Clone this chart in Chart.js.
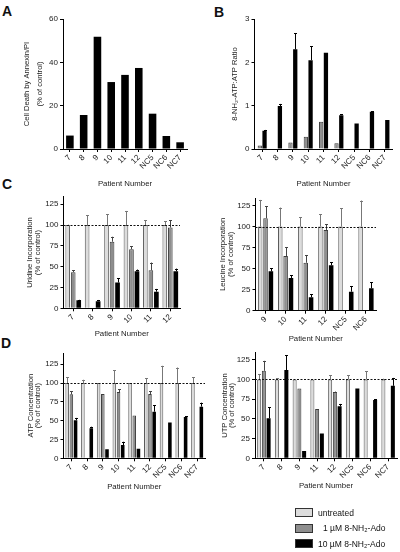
<!DOCTYPE html>
<html>
<head>
<meta charset="utf-8">
<script src="https://cdn.jsdelivr.net/npm/chart.js@4.4.1/dist/chart.umd.min.js"></script>
<style>
  body { margin: 0; background: #fff; width: 400px; height: 552px; position: relative; overflow: hidden; font-family: "Liberation Sans", Arial, sans-serif; }
  canvas { position: absolute; }
  .letter { position: absolute; font-weight: bold; font-size: 14px; line-height: 14px; color: #111; }
  .legend { position: absolute; left: 295px; top: 505px; font-size: 8.5px; color: #111; }
  .legend-row { display: flex; align-items: center; height: 15.5px; }
  .swatch { width: 16px; height: 7px; border: 1px solid #333; margin-right: 5px; }
</style>
</head>
<body>
<div class="letter" style="left:2px;top:4px">A</div>
<div class="letter" style="left:214px;top:5px">B</div>
<div class="letter" style="left:2px;top:177px">C</div>
<div class="letter" style="left:1px;top:336px">D</div>

<canvas id="chartA" width="200" height="190" style="left:0;top:0"></canvas>
<canvas id="chartB" width="200" height="190" style="left:200px;top:0"></canvas>
<canvas id="chartC1" width="200" height="160" style="left:0;top:190px"></canvas>
<canvas id="chartC2" width="200" height="160" style="left:200px;top:190px"></canvas>
<canvas id="chartD1" width="210" height="160" style="left:0;top:345px"></canvas>
<canvas id="chartD2" width="200" height="160" style="left:200px;top:345px"></canvas>

<div class="legend">
  <div class="legend-row"><span class="swatch" style="background:#dcdcdc"></span>untreated</div>
  <div class="legend-row"><span class="swatch" style="background:#8e8e8e"></span><span style="padding-left:5px">1 µM 8-NH₂-Ado</span></div>
  <div class="legend-row"><span class="swatch" style="background:#000"></span>10 µM 8-NH₂-Ado</div>
</div>

<script>
// Patient labels
const patientsAll = ['7', '8', '9', '10', '11', '12', 'NC5', 'NC6', 'NC7'];
const patientsUrd = ['7', '8', '9', '10', '11', '12'];
const patientsLeu = ['9', '10', '11', '12', 'NC5', 'NC6'];
const patientsUtp = ['7', '8', '9', '11', '12', 'NC5', 'NC6', 'NC7'];

// A: cell death
const annexin = [6.2, 15.7, 51.8, 30.9, 34.2, 37.4, 16.3, 6, 3.1];

// B: 8-NH2-ATP:ATP ratio
const ratio1 = [0.08, null, 0.15, 0.28, 0.63, 0.13, null, null, null];
const ratio10 = [0.42, 0.99, 2.3, 2.05, 2.22, 0.78, 0.59, 0.86, 0.67];
const ratio10Err = [0.02, 0.05, 0.37, 0.32, 0, 0.02, 0, 0.01, 0];

// C: uridine incorporation
const urdUnt = [100, 100, 100, 100, 100, 100];
const urdUntErr = [0.5, 12, 13, 17, 6, 4.6];
const urd1 = [43.4, null, 80, 71, 45.7, 97];
const urd1Err = [2.3, 0, 6, 3.4, 9.3, 8.8];
const urd10 = [9.7, 8.5, 31, 44.6, 20, 44.6];
const urd10Err = [0.5, 1.5, 5.4, 2, 3.3, 3.1];

// C: leucine incorporation
const leuUnt = [100, 100, 100, 100, 100, 100];
const leuUntErr = [31.7, 22.6, 11, 14.7, 21.8, 31];
const leu1 = [110, 65, 57, 96, null, null];
const leu1Err = [14, 10.4, 9, 6.8, 0, 0];
const leu10 = [46.8, 38.9, 15.9, 54, 22.6, 26.6];
const leu10Err = [3.6, 3.1, 3.5, 3.5, 6.8, 7.1];

// D: ATP concentration
const atpUnt = [100, 100, 100, 100, 100, 100, 100, 100, 100];
const atpUntErr = [8, 4.4, 0, 17, 0, 6.6, 23, 20.7, 7.5];
const atp1 = [85, null, 85.5, 88, 57, 85.5, null, null, null];
const atp1Err = [4, 0, 0, 3.6, 0, 3.5, 0, 0, 0];
const atp10 = [50.7, 40, 12, 17.6, 12.8, 62, 47.6, 55, 68.7];
const atp10Err = [3, 2, 0, 4.4, 0, 8.5, 0, 1, 5.3];

// D: UTP concentration
const utpUnt = [100, 100, 100, 100, 100, 100, 100, 100];
const utpUntErr = [7, 1.7, 0, 0, 5.5, 5.5, 10.6, 1];
const utp1 = [111, null, 88.6, 62.7, 84, null, null, null];
const utp1Err = [12.7, 0, 0, 0, 0.7, 0, 0, 0];
const utp10 = [50.8, 111.9, 9.3, 31.4, 66, 88.6, 74, 92];
const utp10Err = [14, 19, 0, 0, 3, 0, 1, 10];

Chart.defaults.font.family = '"Liberation Sans", Arial, sans-serif';
Chart.defaults.color = '#222';

// one-sided error bars (upper only)
const errorBarPlugin = {
    id: 'errorBars',
    afterDatasetsDraw(chart) {
        const ctx = chart.ctx;
        const yScale = chart.scales.y;
        chart.data.datasets.forEach((ds, di) => {
            if (!ds.errors) return;
            const meta = chart.getDatasetMeta(di);
            meta.data.forEach((bar, i) => {
                const v = ds.data[i];
                const e = ds.errors[i];
                if (v == null || !e) return;
                const x = Math.round(bar.x) + 0.5;
                const top = yScale.getPixelForValue(v + e);
                ctx.save();
                ctx.strokeStyle = ds.errorColor || '#000';
                ctx.lineWidth = 1;
                ctx.beginPath();
                ctx.moveTo(x, bar.y);
                ctx.lineTo(x, top);
                ctx.moveTo(x - 1.5, Math.round(top) + 0.5);
                ctx.lineTo(x + 1.5, Math.round(top) + 0.5);
                ctx.stroke();
                ctx.restore();
            });
        });
    }
};

// dashed line at 100% of control
const refLinePlugin = {
    id: 'refLine',
    afterDatasetsDraw(chart, args, opts) {
        if (!opts || opts.value == null) return;
        const area = chart.chartArea;
        const y = Math.round(chart.scales.y.getPixelForValue(opts.value)) + 0.5;
        const ctx = chart.ctx;
        ctx.save();
        ctx.strokeStyle = '#111';
        ctx.lineWidth = 1;
        ctx.setLineDash([2, 1.5]);
        ctx.beginPath();
        ctx.moveTo(area.left, y);
        ctx.lineTo(area.right, y);
        ctx.stroke();
        ctx.restore();
    }
};

function untreatedSet(data, errors, cat) {
    return { label: 'untreated', data: data, errors: errors, errorColor: '#777',
        backgroundColor: '#dcdcdc', borderColor: '#5a5a5a', borderWidth: 1,
        categoryPercentage: cat, barPercentage: 0.85 };
}
function lowDoseSet(data, errors, cat) {
    return { label: '1 µM 8-NH₂-Ado', data: data, errors: errors, errorColor: '#444',
        backgroundColor: '#8e8e8e', borderColor: '#3c3c3c', borderWidth: 1,
        categoryPercentage: cat, barPercentage: 0.85 };
}
function highDoseSet(data, errors, cat) {
    return { label: '10 µM 8-NH₂-Ado', data: data, errors: errors, errorColor: '#000',
        backgroundColor: '#000', borderColor: '#000', borderWidth: 0,
        categoryPercentage: cat, barPercentage: 0.85 };
}

function buildChart(id, p) {
    return new Chart(document.getElementById(id), {
        type: 'bar',
        data: { labels: p.labels, datasets: p.datasets },
        options: {
            responsive: false,
            animation: false,
            devicePixelRatio: 1,
            layout: { padding: p.pad },
            plugins: {
                legend: { display: false },
                tooltip: { enabled: false },
                refLine: { value: p.refLine }
            },
            scales: {
                x: {
                    offset: true,
                    grid: { offset: false, drawOnChartArea: false, drawTicks: true, tickLength: 3, color: '#000' },
                    border: { display: true, color: '#000', width: 1 },
                    ticks: { autoSkip: false, minRotation: 45, maxRotation: 45, padding: 1, font: { size: 8 } },
                    title: { display: true, text: 'Patient Number', padding: 0, font: { size: 7.8 } },
                    afterFit: s => { s.height = p.hX; }
                },
                y: {
                    min: 0,
                    max: p.yMax,
                    grid: { drawOnChartArea: false, drawTicks: true, tickLength: 3, color: '#000' },
                    border: { display: true, color: '#000', width: 1 },
                    ticks: { stepSize: p.step, includeBounds: false, padding: 2, font: { size: 8 } },
                    title: { display: true, text: p.yTitle, padding: 0, font: { size: 7.6, lineHeight: p.titleLh } },
                    afterFit: s => { s.width = p.wY; }
                }
            }
        },
        plugins: [errorBarPlugin, refLinePlugin]
    });
}

// Panel A
buildChart('chartA', {
    labels: patientsAll,
    datasets: [{ data: annexin, backgroundColor: '#000', borderWidth: 0, categoryPercentage: 0.55, barPercentage: 1 }],
    yMax: 60, step: 20,
    yTitle: ['Cell Death by Annexin/PI', '(% of control)'], titleLh: '12.7px',
    pad: { left: 20.6, top: 19, right: 13, bottom: 1.8 }, wY: 42.4, hX: 39.2
});

// Panel B
buildChart('chartB', {
    labels: patientsAll,
    datasets: [
        { data: ratio1, backgroundColor: '#8e8e8e', borderColor: '#3c3c3c', borderWidth: 1, categoryPercentage: 0.62, barPercentage: 0.9 },
        { data: ratio10, errors: ratio10Err, errorColor: '#000', backgroundColor: '#000', borderWidth: 0, categoryPercentage: 0.62, barPercentage: 0.9 }
    ],
    yMax: 3, step: 1,
    yTitle: '8-NH₂-ATP:ATP Ratio', titleLh: '9.4px',
    pad: { left: 30.3, top: 19, right: 7.4, bottom: 1.8 }, wY: 24.2, hX: 39.2
});

// Panel C, uridine
buildChart('chartC1', {
    labels: patientsUrd,
    datasets: [untreatedSet(urdUnt, urdUntErr, 0.85), lowDoseSet(urd1, urd1Err, 0.85), highDoseSet(urd10, urd10Err, 0.85)],
    yMax: 134, step: 25, refLine: 100,
    yTitle: ['Uridine Incorporation', '(% of control)'], titleLh: '7.3px',
    pad: { left: 26.75, top: 3, right: 20, bottom: 11.3 }, wY: 36.75, hX: 30.4
});

// Panel C, leucine
buildChart('chartC2', {
    labels: patientsLeu,
    datasets: [untreatedSet(leuUnt, leuUntErr, 0.8), lowDoseSet(leu1, leu1Err, 0.8), highDoseSet(leu10, leu10Err, 0.8)],
    yMax: 134, step: 25, refLine: 100,
    yTitle: ['Leucine Incorporation', '(% of control)'], titleLh: '7.3px',
    pad: { left: 19.65, top: 8, right: 24, bottom: 6 }, wY: 35.85, hX: 33.3
});

// Panel D, ATP
buildChart('chartD1', {
    labels: patientsAll,
    datasets: [untreatedSet(atpUnt, atpUntErr, 0.8), lowDoseSet(atp1, atp1Err, 0.8), highDoseSet(atp10, atp10Err, 0.8)],
    yMax: 140, step: 25, refLine: 100,
    yTitle: ['ATP Concentration', '(% of control)'], titleLh: '7px',
    pad: { left: 27.2, top: 8, right: 5, bottom: 13.6 }, wY: 36.3, hX: 33.1
});

// Panel D, UTP
buildChart('chartD2', {
    labels: patientsUtp,
    datasets: [untreatedSet(utpUnt, utpUntErr, 0.8), lowDoseSet(utp1, utp1Err, 0.8), highDoseSet(utp10, utp10Err, 0.8)],
    yMax: 134, step: 25, refLine: 100,
    yTitle: ['UTP Concentration', '(% of control)'], titleLh: '7.3px',
    pad: { left: 21.35, top: 7.7, right: 3, bottom: 14.6 }, wY: 33.65, hX: 32.1
});
</script>
</body>
</html>
